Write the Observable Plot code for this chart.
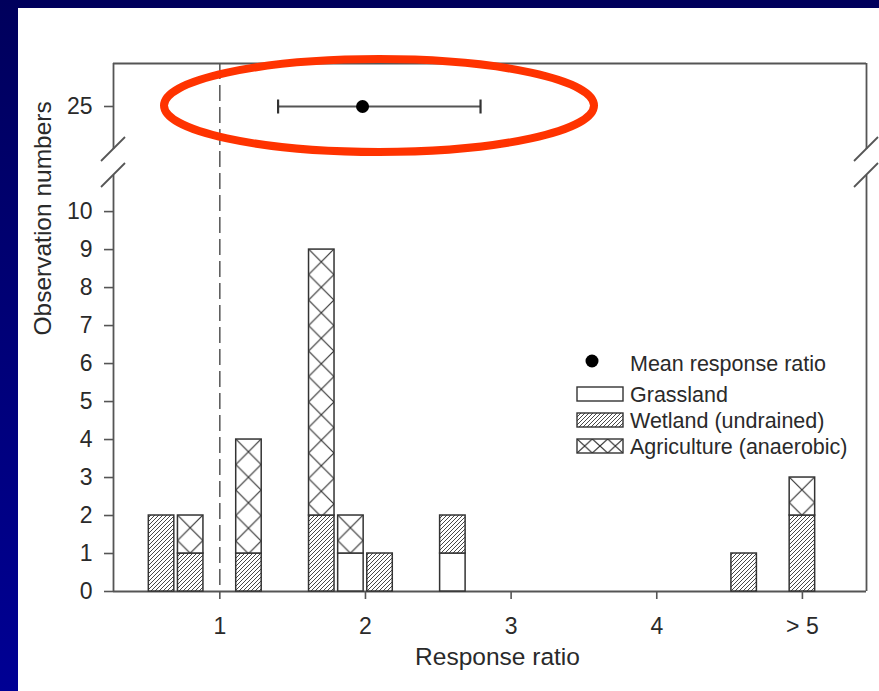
<!DOCTYPE html>
<html><head><meta charset="utf-8">
<script src="https://cdn.jsdelivr.net/npm/d3@7"></script>
<script src="https://cdn.jsdelivr.net/npm/@observablehq/plot@0.6"></script>
<style>
html,body{margin:0;padding:0;}
body{width:879px;height:691px;overflow:hidden;background:linear-gradient(to bottom,#00005c,#000094);position:relative;font-family:"Liberation Sans",Arial,sans-serif;}
#panel{position:absolute;left:18px;top:8px;width:861px;height:683px;background:#fff;}
</style></head><body><div id="panel"></div>
<script>
// ---- data ----
const binCenters = [0.6, 0.8, 1.2, 1.7, 1.9, 2.1, 2.6, 4.6, 5.0];
const grassland   = [0, 0, 0, 0, 1, 0, 1, 0, 0];
const wetland     = [2, 1, 1, 2, 0, 1, 1, 1, 2];
const agriculture = [0, 1, 3, 7, 1, 0, 0, 0, 1];
const seriesNames = ["Grassland", "Wetland (undrained)", "Agriculture (anaerobic)"];
const meanLabel = "Mean response ratio";
const meanRatio = [1.98];
const meanLow = [1.40];
const meanHigh = [2.79];
const meanObs = [25];
const xTicks = [1, 2, 3, 4, 5];
const xTickLabels = ["1", "2", "3", "4", "> 5"];
const yTicks = [0, 1, 2, 3, 4, 5, 6, 7, 8, 9, 10, 25];
const xDomain = [0.27, 5.44];
const yDomain = [0, 10.95, 24, 26];   // broken axis: lower and upper panel
const xTitle = "Response ratio";
const yTitle = "Observation numbers";

// ---- build tables ----
const barHalf = 0.0875;
const series = [grassland, wetland, agriculture];
const rows = [];
binCenters.forEach((c, i) => {
  let base = 0;
  series.forEach((s, k) => {
    if (s[i] > 0) { rows.push({bin: i, x: c, type: k, y1: base, y2: base + s[i]}); base += s[i]; }
  });
});
const meanRows = meanRatio.map((m, i) => ({x: m, lo: meanLow[i], hi: meanHigh[i], y: meanObs[i]}));
const agriRows = rows.filter(d => d.type === 2);
const tickLabelMap = new Map(xTicks.map((t, i) => [t, xTickLabels[i]]));

const W = 861, H = 683;
const mL = 95, mR = 13, mT = 55, mB = 100;
const yRange = [H - mB, 167, 141, mT];
const ink = "#2a2a2a", axisInk = "#555";
const capSymbol = {draw(ctx, size) { const h = Math.sqrt(size / Math.PI); ctx.moveTo(0, -h); ctx.lineTo(0, h); }};

const barOpts = {x1: d => d.x - barHalf, x2: d => d.x + barHalf, y1: "y1", y2: "y2", stroke: "#333", strokeWidth: 1.5};

const plot = Plot.plot({
  width: W, height: H,
  marginLeft: mL, marginRight: mR, marginTop: mT, marginBottom: mB,
  style: {fontFamily: "'Liberation Sans', Arial, sans-serif", background: "transparent", color: ink},
  x: {type: "linear", domain: xDomain, range: [mL, W - mR]},
  y: {type: "linear", domain: yDomain, range: yRange},
  marks: [
    // frame segments (broken)
    Plot.ruleY([yDomain[0], yDomain[3]], {stroke: axisInk, strokeWidth: 1.8}),
    Plot.ruleX([xDomain[0], xDomain[1]], {y1: yDomain[0], y2: yDomain[1], stroke: axisInk, strokeWidth: 1.8}),
    Plot.ruleX([xDomain[0], xDomain[1]], {y1: yDomain[2], y2: yDomain[3], stroke: axisInk, strokeWidth: 1.8}),
    // reference line at ratio 1
    Plot.ruleX([1], {stroke: "#555", strokeWidth: 1.5, strokeDasharray: "16,6"}),
    // bars
    Plot.rect(rows.filter(d => d.type === 0), {...barOpts, fill: "white"}),
    Plot.rect(rows.filter(d => d.type === 1), {...barOpts, fill: "url(#hatch)"}),
    ...agriRows.map((d, j) => Plot.rect([d], {...barOpts, fill: `url(#agri-${j})`})),
    // mean and interval
    Plot.ruleY(meanRows, {x1: "lo", x2: "hi", y: "y", stroke: "#555", strokeWidth: 2}),
    Plot.dot(meanRows, {x: "lo", y: "y", symbol: capSymbol, r: 7, stroke: "#333", strokeWidth: 2.2}),
    Plot.dot(meanRows, {x: "hi", y: "y", symbol: capSymbol, r: 7, stroke: "#333", strokeWidth: 2.2}),
    Plot.dot(meanRows, {x: "x", y: "y", r: 6.5, fill: "black", stroke: "none"}),
    // axes
    Plot.axisY(yTicks, {tickSize: 9, tickPadding: 12, fontSize: 23, label: null, stroke: axisInk, strokeWidth: 1.6, fill: ink}),
    Plot.axisX(xTicks, {tickSize: 8, tickPadding: 18, fontSize: 23, label: null, tickFormat: d => tickLabelMap.get(d), stroke: axisInk, strokeWidth: 1.6, fill: ink}),
    Plot.text([yTitle], {text: d => d, frameAnchor: "left", rotate: -90, dx: -70, dy: 8, fontSize: 24.5, lineAnchor: "middle", fill: ink}),
    Plot.text([xTitle], {text: d => d, frameAnchor: "bottom", dx: 7.5, dy: 66, fontSize: 24.5, lineAnchor: "middle", fill: ink})
  ]
});
document.getElementById("panel").appendChild(plot);

// ---- patterns, break marks, legend, highlight ----
const svg = d3.select(plot);
const xs = plot.scale("x"), ys = plot.scale("y");
const defs = svg.insert("defs", ":first-child");
const hatch = defs.append("pattern").attr("id", "hatch").attr("patternUnits", "userSpaceOnUse").attr("width", 4).attr("height", 4);
hatch.append("rect").attr("width", 4).attr("height", 4).attr("fill", "white");
hatch.append("path").attr("d", "M-1,1 L1,-1 M0,4 L4,0 M3,5 L5,3").attr("stroke", "#333").attr("stroke-width", 0.9);
function crossPattern(id, x0, y0, w, h) {
  const p = defs.append("pattern").attr("id", id).attr("patternUnits", "userSpaceOnUse")
    .attr("x", x0).attr("y", y0).attr("width", w).attr("height", h);
  p.append("rect").attr("width", w).attr("height", h).attr("fill", "white");
  p.append("path").attr("d", `M0,0 L${w},${h} M${w},0 L0,${h}`).attr("stroke", "#333").attr("stroke-width", 1.2);
}
agriRows.forEach((d, j) => {
  const x0 = xs.apply(d.x - barHalf), x1 = xs.apply(d.x + barHalf);
  const w = x1 - x0;
  crossPattern(`agri-${j}`, x0, ys.apply(d.y2), w, w);
});

// break marks
const yb1 = ys.apply(yDomain[1]), yb2 = ys.apply(yDomain[2]);
[xs.apply(xDomain[0]), xs.apply(xDomain[1])].forEach(x => {
  [yb1, yb2].forEach(y => {
    svg.append("line").attr("x1", x - 12).attr("y1", y + 12).attr("x2", x + 12).attr("y2", y - 12)
      .attr("stroke", axisInk).attr("stroke-width", 1.8);
  });
});

// legend
const lg = svg.append("g").attr("font-family", "'Liberation Sans', Arial, sans-serif").attr("font-size", 21.5)
  .attr("fill", ink).attr("text-anchor", "start");
const lx = 559, tx = 612;
lg.append("circle").attr("cx", 574).attr("cy", 353).attr("r", 6.5).attr("fill", "black");
lg.append("text").attr("x", tx).attr("y", 355).attr("dy", "0.35em").attr("text-anchor", "start").text(meanLabel);
const swY = [379, 405, 431];
crossPattern("agri-legend", lx, swY[2], 46 / 3, 14);
const swFill = ["white", "url(#hatch)", "url(#agri-legend)"];
seriesNames.forEach((name, k) => {
  lg.append("rect").attr("x", lx).attr("y", swY[k]).attr("width", 46).attr("height", 14)
    .attr("fill", swFill[k]).attr("stroke", "#333").attr("stroke-width", 1.4);
  lg.append("text").attr("x", tx).attr("y", swY[k] + 7).attr("dy", "0.35em").attr("text-anchor", "start").text(name);
});

// red highlight ellipse
svg.append("ellipse").attr("cx", 361).attr("cy", 97.5).attr("rx", 215).attr("ry", 46.5)
  .attr("fill", "none").attr("stroke", "#ff3300").attr("stroke-width", 8);
</script>
</body></html>
